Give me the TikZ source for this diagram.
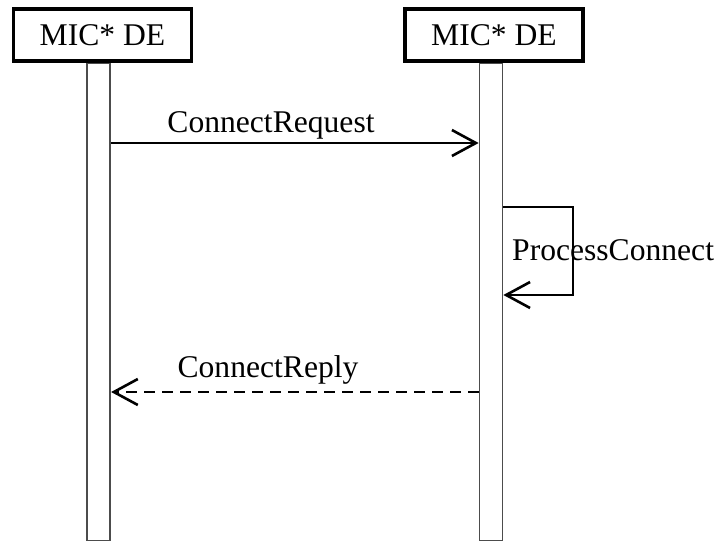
\documentclass[tikz,border=0pt]{standalone}
\usepackage{fontspec}
\setmainfont{Liberation Serif}
\usetikzlibrary{arrows.meta}
\begin{document}
\begin{tikzpicture}[x=1pt,y=-1pt,
 obj/.style={draw, line width=3.5pt, fill=white, inner sep=0pt, minimum width=178pt, minimum height=52pt, font=\fontsize{31.6}{36}\selectfont},
 life/.style={draw=black!70, line width=1.7pt, inner sep=0pt, minimum width=23pt, minimum height=478pt, anchor=north},
 msg/.style={line width=2.6pt, line join=miter, -{Straight Barb[length=24pt,width=26pt,line width=2.6pt]}},
 lbl/.style={font=\fontsize{31.6}{36}\selectfont, inner sep=0pt}]
\useasboundingbox (0,0) rectangle (721,541);
\node[life] (l1) at (98.75,62) {};
\node[life] (l2) at (491,62) {};
\node[obj] (a) at (102.5,35) {MIC* DE};
\node[obj] (b) at (494,35) {MIC* DE};
\coordinate (y1) at (0,143);
\coordinate (s1) at (0,207);
\coordinate (s2) at (0,295);
\coordinate (y3) at (0,392);
\coordinate (c1) at (573,207);
\coordinate (c2) at (573,295);
\draw[msg] (l1.east |- y1) -- (l2.west |- y1);
\draw[msg] (l2.east |- s1) -- (c1) -- (c2) -- (l2.east |- s2);
\draw[msg, dash pattern=on 11pt off 7pt] (l2.west |- y3) -- (l1.east |- y3);
\node[lbl, anchor=base] (t1) at (271,132) {ConnectRequest};
\node[lbl, anchor=base west] (t2) at (512,260) {ProcessConnect};
\node[lbl, anchor=base] (t3) at (268,377) {ConnectReply};
\end{tikzpicture}
\end{document}
